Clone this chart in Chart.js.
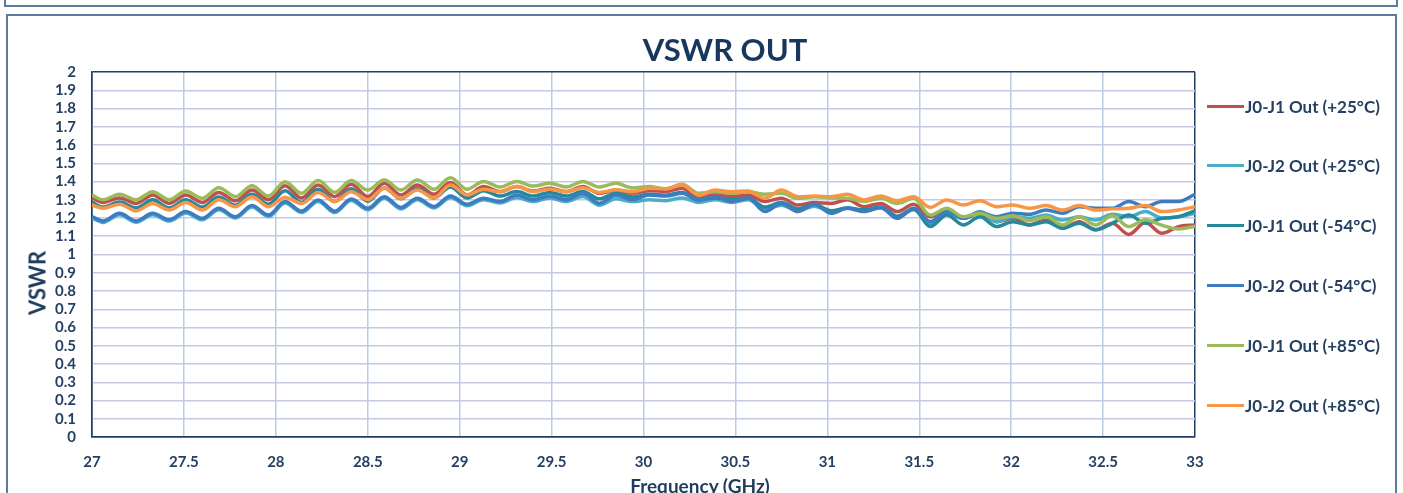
<!DOCTYPE html>
<html>
<head>
<meta charset="utf-8">
<title>VSWR OUT</title>
<script src="https://cdn.jsdelivr.net/npm/chart.js@4.4.1/dist/chart.umd.min.js"></script>
<style>
  html, body { margin: 0; padding: 0; background: #fff; }
  body { width: 1403px; height: 493px; overflow: hidden; position: relative; font-family: Lato, "Open Sans", sans-serif; }
  .frame-top { position: absolute; left: 4px; top: -10px; width: 1390px; height: 13px; border: 2px solid #5B7C9C; }
  .frame { position: absolute; left: 6px; top: 14px; width: 1387px; height: 520px; border: 2px solid #5B7C9C; }
  #chart { position: absolute; left: 0; top: 0; }
  .title { position: absolute; left: 525px; width: 400px; top: 30px; text-align: center; font-weight: 700; font-size: 31px; line-height: 38px; color: #17375E; }
  .ytitle { position: absolute; left: 37px; top: 283px; transform: translate(-50%, -50%) rotate(-90deg); font-weight: 700; font-size: 22px; color: #1F3B5E; white-space: nowrap; }
  .xtitle { position: absolute; left: 550px; width: 300px; top: 474px; text-align: center; font-weight: 700; font-size: 19px; line-height: 24px; color: #1F3B5E; }
  .legend-item { position: absolute; left: 1207px; height: 20px; display: flex; align-items: center; white-space: nowrap; }
  .legend-item .swatch { width: 37px; height: 3px; margin-right: 1px; }
  .legend-item .label { font-size: 17px; font-weight: 700; color: #243F62; }
</style>
</head>
<body>
<div class="frame-top"></div>
<div class="frame"></div>
<canvas id="chart" width="1403" height="493"></canvas>
<div class="title">VSWR OUT</div>
<div class="ytitle">VSWR</div>
<div class="xtitle">Frequency (GHz)</div>
<div id="legend"></div>
<script>
// frequency points (GHz)
const freq = [27.00, 27.06, 27.15, 27.24, 27.33, 27.42, 27.51, 27.60, 27.69, 27.78, 27.87, 27.96,
  28.05, 28.14, 28.23, 28.32, 28.41, 28.50, 28.59, 28.68, 28.77, 28.86, 28.95, 29.04, 29.13, 29.22,
  29.31, 29.40, 29.49, 29.58, 29.67, 29.76, 29.85, 29.94, 30.03, 30.12, 30.21, 30.30, 30.39, 30.48,
  30.57, 30.66, 30.75, 30.84, 30.93, 31.02, 31.11, 31.20, 31.29, 31.38, 31.47, 31.56, 31.65, 31.74,
  31.83, 31.92, 32.01, 32.10, 32.19, 32.28, 32.37, 32.46, 32.55, 32.64, 32.73, 32.82, 32.91, 33.00];

const j0j1_p25 = [1.31, 1.285, 1.31, 1.28, 1.326, 1.28, 1.326, 1.285, 1.34, 1.294, 1.353, 1.30, 1.377, 1.31, 1.381, 1.317, 1.385, 1.317,
  1.39, 1.326, 1.381, 1.33, 1.395, 1.326, 1.372, 1.345, 1.372, 1.348, 1.363, 1.344, 1.372, 1.335, 1.353, 1.335,
  1.35, 1.345, 1.363, 1.308, 1.33, 1.317, 1.326, 1.29, 1.308, 1.271, 1.285, 1.28, 1.30, 1.262, 1.28, 1.235, 1.275,
  1.207, 1.235, 1.198, 1.226, 1.18, 1.198, 1.162, 1.189, 1.144, 1.18, 1.135, 1.171, 1.11, 1.175, 1.116, 1.153, 1.162];

const j0j2_p25 = [1.20, 1.176, 1.218, 1.177, 1.218, 1.183, 1.227, 1.19, 1.245, 1.20, 1.26, 1.208, 1.282, 1.23, 1.291, 1.23, 1.296, 1.245,
  1.308, 1.25, 1.30, 1.255, 1.312, 1.267, 1.30, 1.282, 1.312, 1.29, 1.31, 1.29, 1.318, 1.27, 1.305, 1.29,
  1.30, 1.295, 1.31, 1.285, 1.30, 1.285, 1.30, 1.25, 1.27, 1.24, 1.265, 1.235, 1.255, 1.24, 1.255, 1.205, 1.245,
  1.171, 1.22, 1.198, 1.235, 1.18, 1.207, 1.198, 1.216, 1.189, 1.207, 1.189, 1.22, 1.207, 1.235, 1.20, 1.207, 1.226];

const j0j1_m54 = [1.287, 1.26, 1.287, 1.255, 1.30, 1.255, 1.30, 1.26, 1.315, 1.27, 1.33, 1.275, 1.35, 1.285, 1.357, 1.29, 1.36, 1.292,
  1.365, 1.305, 1.36, 1.31, 1.37, 1.31, 1.35, 1.32, 1.345, 1.32, 1.34, 1.32, 1.345, 1.305, 1.335, 1.315,
  1.33, 1.325, 1.34, 1.30, 1.31, 1.30, 1.31, 1.26, 1.285, 1.25, 1.275, 1.24, 1.255, 1.245, 1.26, 1.21, 1.25,
  1.153, 1.216, 1.162, 1.207, 1.153, 1.18, 1.162, 1.18, 1.144, 1.171, 1.135, 1.171, 1.216, 1.171, 1.198, 1.207, 1.24];

const j0j2_m54 = [1.207, 1.184, 1.226, 1.184, 1.226, 1.19, 1.235, 1.198, 1.253, 1.207, 1.268, 1.216, 1.29, 1.237, 1.299, 1.237, 1.304, 1.253,
  1.317, 1.258, 1.308, 1.263, 1.321, 1.275, 1.308, 1.29, 1.326, 1.30, 1.321, 1.30, 1.335, 1.28, 1.326, 1.30,
  1.326, 1.32, 1.335, 1.299, 1.317, 1.29, 1.308, 1.235, 1.28, 1.235, 1.276, 1.226, 1.253, 1.235, 1.257, 1.198, 1.253,
  1.18, 1.235, 1.198, 1.23, 1.207, 1.226, 1.22, 1.244, 1.226, 1.262, 1.253, 1.253, 1.29, 1.262, 1.29, 1.29, 1.33];

const j0j1_p85 = [1.326, 1.30, 1.33, 1.30, 1.344, 1.30, 1.348, 1.308, 1.366, 1.317, 1.377, 1.32, 1.399, 1.335, 1.405, 1.341, 1.405, 1.353,
  1.408, 1.353, 1.408, 1.358, 1.421, 1.358, 1.40, 1.37, 1.40, 1.375, 1.39, 1.37, 1.40, 1.37, 1.39, 1.365,
  1.372, 1.36, 1.385, 1.335, 1.344, 1.335, 1.344, 1.33, 1.335, 1.308, 1.317, 1.31, 1.308, 1.29, 1.308, 1.28, 1.308,
  1.216, 1.253, 1.207, 1.226, 1.198, 1.212, 1.185, 1.207, 1.162, 1.207, 1.162, 1.212, 1.153, 1.19, 1.16, 1.14, 1.155];

const j0j2_p85 = [1.271, 1.253, 1.276, 1.239, 1.28, 1.244, 1.285, 1.244, 1.30, 1.262, 1.317, 1.262, 1.313, 1.28, 1.34, 1.29, 1.344, 1.30,
  1.363, 1.308, 1.353, 1.31, 1.381, 1.326, 1.358, 1.344, 1.372, 1.345, 1.358, 1.345, 1.366, 1.34, 1.355, 1.344,
  1.363, 1.36, 1.381, 1.326, 1.353, 1.344, 1.348, 1.308, 1.353, 1.317, 1.32, 1.317, 1.33, 1.299, 1.32, 1.294, 1.317,
  1.258, 1.299, 1.271, 1.294, 1.262, 1.271, 1.253, 1.268, 1.244, 1.268, 1.244, 1.25, 1.253, 1.268, 1.235, 1.244, 1.262];

const seriesNames = ['J0-J1 Out (+25°C)', 'J0-J2 Out (+25°C)', 'J0-J1 Out (-54°C)',
  'J0-J2 Out (-54°C)', 'J0-J1 Out (+85°C)', 'J0-J2 Out (+85°C)'];
const seriesValues = [j0j1_p25, j0j2_p25, j0j1_m54, j0j2_m54, j0j1_p85, j0j2_p85];
const seriesColors = ['#C0504D', '#4BACC6', '#23899B', '#3D7CC0', '#9BBB59', '#F79646'];

const xTickLabels = ['27', '27.5', '28', '28.5', '29', '29.5', '30', '30.5', '31', '31.5', '32', '32.5', '33'];
const yTickLabels = ['0', '0.1', '0.2', '0.3', '0.4', '0.5', '0.6', '0.7', '0.8', '0.9', '1',
  '1.1', '1.2', '1.3', '1.4', '1.5', '1.6', '1.7', '1.8', '1.9', '2'];

const axisDark = '#1F3F66';
const labelColor = '#243F62';
const tickFont = { family: 'Lato', size: 15, weight: 'bold' };

// legend (html, right side)
const legend = document.getElementById('legend');
seriesNames.forEach((name, i) => {
  const item = document.createElement('div');
  item.className = 'legend-item';
  item.style.top = (96 + i * 59.8) + 'px';
  const sw = document.createElement('div');
  sw.className = 'swatch';
  sw.style.background = seriesColors[i];
  const lb = document.createElement('span');
  lb.className = 'label';
  lb.textContent = name;
  item.appendChild(sw);
  item.appendChild(lb);
  legend.appendChild(item);
});

const ctx = document.getElementById('chart').getContext('2d');
const chart = new Chart(ctx, {
  type: 'line',
  data: {
    datasets: seriesValues.map((vals, i) => ({
      label: seriesNames[i],
      data: freq.map((f, k) => ({ x: f, y: vals[k] })),
      borderColor: seriesColors[i],
      backgroundColor: seriesColors[i],
      borderWidth: 3.5,
      pointRadius: 0,
      fill: false,
      cubicInterpolationMode: 'monotone',
      order: seriesValues.length - 1 - i,
    }))
  },
  options: {
    responsive: false,
    animation: false,
    devicePixelRatio: 1,
    layout: { padding: { left: 0, top: 72, right: 208, bottom: 0 } },
    plugins: {
      legend: { display: false },
      title: { display: false },
      tooltip: { enabled: false },
    },
    scales: {
      x: {
        type: 'linear',
        min: 27,
        max: 33,
        afterBuildTicks: (scale) => { scale.ticks = xTickLabels.map(t => ({ value: Number(t) })); },
        afterFit: (scale) => { scale.height = 56; },
        ticks: {
          callback: (v, i) => xTickLabels[i],
          font: tickFont,
          color: labelColor,
          padding: 16,
          maxRotation: 0,
          autoSkip: false,
        },
        grid: {
          drawTicks: false,
          color: (c) => (c.tick && (c.tick.value === 27 || c.tick.value === 33)) ? axisDark : '#B9CBE6',
          lineWidth: 1.5,
        },
        border: { display: true, color: axisDark, width: 1.5 },
      },
      y: {
        type: 'linear',
        min: 0,
        max: 2,
        afterBuildTicks: (scale) => { scale.ticks = yTickLabels.map(t => ({ value: Number(t) })); },
        afterFit: (scale) => { scale.width = 92; },
        ticks: {
          callback: (v, i) => yTickLabels[i],
          font: tickFont,
          color: labelColor,
          padding: 16,
          autoSkip: false,
        },
        grid: {
          drawTicks: false,
          color: (c) => (c.tick && (c.tick.value === 0 || c.tick.value === 2)) ? axisDark : '#C6C8E6',
          lineWidth: 1.5,
        },
        border: { display: true, color: axisDark, width: 1.5 },
      }
    }
  }
});
</script>
</body>
</html>
